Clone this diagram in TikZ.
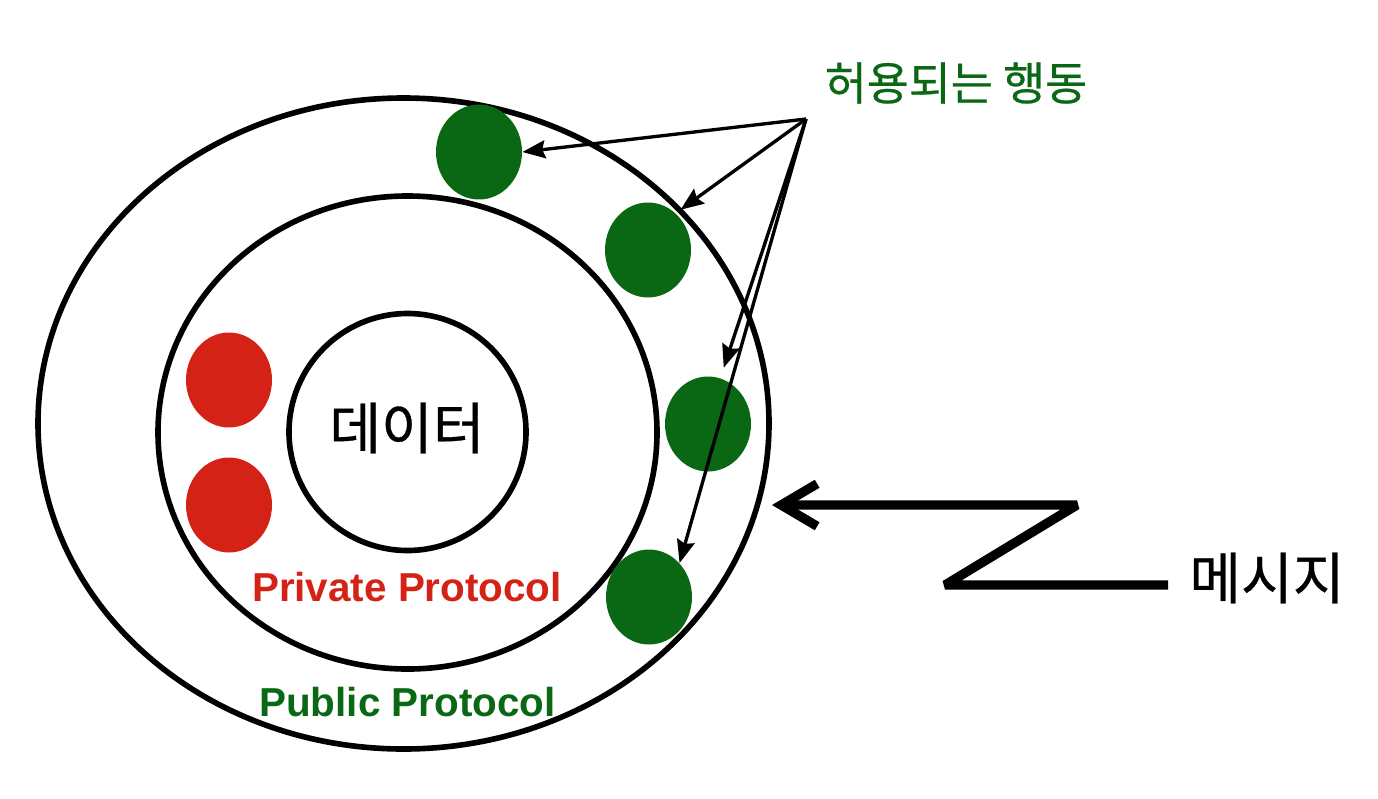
\documentclass[tikz,border=0pt]{standalone}
\usepackage{fontspec}
\setmainfont{Liberation Sans}
\newfontfamily\kr[FakeBold=0.6]{Noto Sans CJK KR}
\usetikzlibrary{shapes,arrows.meta}
\definecolor{okgreen}{RGB}{10,104,20}
\definecolor{nored}{RGB}{212,34,22}

\begin{document}
\begin{tikzpicture}[x=0.02cm,y=-0.02cm,
	ring/.style={line width=3.2pt},
	gdot/.style={ellipse,fill=okgreen,minimum width=1.72cm,minimum height=1.9cm,inner sep=0},
	rdot/.style={ellipse,fill=nored,minimum width=1.72cm,minimum height=1.9cm,inner sep=0},
	hint/.style={line width=1.9pt,-{Stealth[length=0.46cm,width=0.36cm,inset=0.06cm]}}]
			\useasboundingbox (0,0) rectangle (1378,798);
			\draw[ring] (403.5,423.5) ellipse [x radius=365.5, y radius=325.5];
			\draw[ring] (407.5,432.5) ellipse [x radius=249.5, y radius=236.5];
			\draw[ring] (407.5,432) circle (118.5);
			\node[font=\kr\fontsize{32}{32}\selectfont] (data) at (407,428) {데이터};

			\node[rdot] (r1) at (229,380) {};
			\node[rdot] (r2) at (229,505) {};
			\node[gdot] (g1) at (479,152) {};
			\node[gdot] (g2) at (648,250) {};
			\node[gdot] (g3) at (708,424) {};
			\node[gdot] (g4) at (649,597) {};

			\node[text=nored,font=\bfseries\fontsize{23}{23}\selectfont] (priv) at (407,587) {Private Protocol};
			\node[text=okgreen,font=\bfseries\fontsize{23}{23}\selectfont] (pub) at (407.5,702) {Public Protocol};

			\node[text=okgreen,font=\kr\fontsize{26}{26}\selectfont] (ok) at (956,83) {허용되는 행동};
			\coordinate (src) at (806,119);
			\draw[hint] (src) -- (g1.east);
			\draw[hint,shorten >=0.12cm] (src) -- (g2.53);
			\draw[hint,shorten >=0.22cm] (src) -- (g3.75);
			\draw[hint] (src) -- (g4.48);

			\node[font=\kr\fontsize{32}{32}\selectfont] (msg) at (1267,578) {메시지};
			\coordinate (zend) at (1168,585);
			\coordinate (zlow) at (945,585);
			\coordinate (zhigh) at (1077,505);
			\coordinate (ztip) at (772,505);
			\draw[line width=5.3pt,line join=bevel,-{Straight Barb[length=0.72cm,width=0.85cm]}] (zend) -- (zlow) -- (zhigh) -- (ztip);
		\end{tikzpicture}
\end{document}
